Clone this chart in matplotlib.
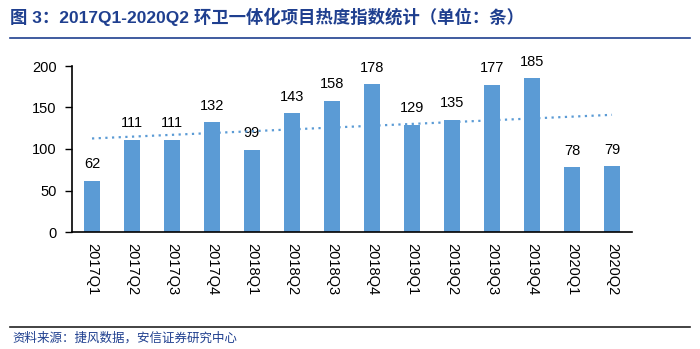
import matplotlib
matplotlib.use("Agg")
import matplotlib.pyplot as plt
import numpy as np
from matplotlib.lines import Line2D

plt.rcParams['font.family'] = ['Liberation Sans', 'Noto Sans CJK SC', 'DejaVu Sans']

categories = ["2017Q1", "2017Q2", "2017Q3", "2017Q4", "2018Q1", "2018Q2", "2018Q3",
              "2018Q4", "2019Q1", "2019Q2", "2019Q3", "2019Q4", "2020Q1", "2020Q2"]
values = [62, 111, 111, 132, 99, 143, 158, 178, 129, 135, 177, 185, 78, 79]
yticks = [0, 50, 100, 150, 200]

title = "图 3：2017Q1-2020Q2 环卫一体化项目热度指数统计（单位：条）"
source = "资料来源：捷风数据，安信证券研究中心"

bar_color = "#5B9BD5"
blue_text = "#1F3F8F"

fig = plt.figure(figsize=(7, 3.49), dpi=100)
ax = fig.add_axes([72/700, 1-232/349, (632-72)/700, (232-66)/349])

x = np.arange(len(categories))
ax.bar(x, values, width=0.4, color=bar_color, zorder=2)
for xi, v in zip(x, values):
    ax.annotate(str(v), (xi, v), xytext=(0, 7), textcoords="offset points",
                ha="center", va="bottom", fontsize=10.5, color="#000000")

coef = np.polyfit(x, values, 1)
ax.plot(x, np.polyval(coef, x), linestyle=(0, (1, 2)), color=bar_color, linewidth=1.6, zorder=3)

ax.set_xlim(-0.5, len(categories) - 0.5)
ax.set_ylim(0, 200)
ax.set_yticks(yticks)
ax.set_yticklabels([str(t) for t in yticks], fontsize=10.5)
ax.set_xticks(x)
ax.set_xticklabels(categories, rotation=270, fontsize=10.5)
ax.tick_params(axis='x', length=0, pad=8)
ax.tick_params(axis='y', length=5, width=1, direction='out', pad=6)
for s in ["top", "right"]:
    ax.spines[s].set_visible(False)
ax.spines["left"].set_linewidth(1.2)
ax.spines["bottom"].set_linewidth(1.2)

fig.text(10/700, 1-17/349, title, fontsize=12.5, fontweight="bold", color=blue_text,
         ha="left", va="center", family=['Liberation Sans', 'Noto Sans CJK SC'])
fig.add_artist(Line2D([10/700, 690/700], [1-38/349, 1-38/349], color=blue_text, linewidth=1.2))
fig.add_artist(Line2D([10/700, 690/700], [1-327/349, 1-327/349], color="#222222", linewidth=1.2))
fig.text(12/700, 1-338/349, source, fontsize=9, style="italic", color=blue_text,
         ha="left", va="center", family=['Noto Sans CJK SC'])

fig.savefig("out.png", dpi=100)
